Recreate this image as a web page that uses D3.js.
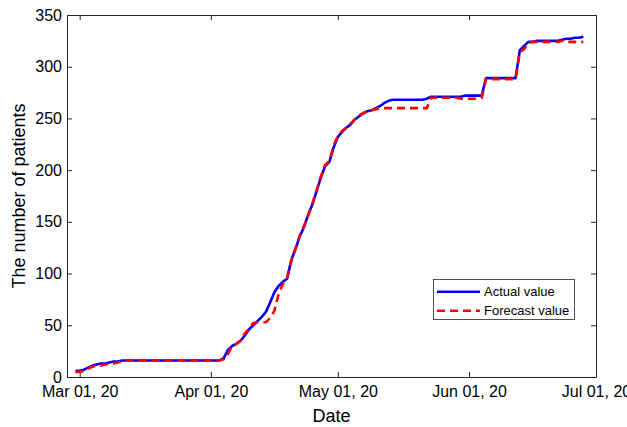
<!DOCTYPE html>
<html><head><meta charset="utf-8">
<script src="https://cdn.jsdelivr.net/npm/d3@7"></script>
<style>body{margin:0;background:#fff}svg{display:block}</style>
</head><body><svg id="c" width="627" height="427"></svg>
<script>
// ---- data ----
const startDate = "2020-02-29"; // first daily observation
const actualValues = [
  6,6,7,9,11,12,13,13,14,15,15,16,16,16,
  16,16,16,16,16,16,16,16,16,16,16,16,16,16,16,16,16,16,16,16,16,
  18,26,30,32,35,40,46,50,54,58,63,72,82,88,92,95,113,124,136,145,157,167,180,193,204,208,
  222,232,237,241,244,249,252,255,257,258,260,262,265,267,268,268,
  268,268,268,268,268,268,269,
  271,271,271,271,271,271,271,271,
  272,272,272,272,272,
  289,289,289,289,289,289,289,289,
  316,320,324,324,325,325,325,325,325,325,326,327,327,328,328,329
];
const forecastValues = [
  5,5,6,8,10,11,11,12,13,13,14,15,16,16,
  16,16,16,16,16,16,16,16,16,16,16,16,16,16,16,16,16,16,16,16,16,
  17,22,30,32,35,42,47,52,53,53,53,57,64,80,90,96,112,124,137,146,156,168,181,194,205,209,
  224,233,238,241,245,249,253,255,257,258,259,260,260,260,260,260,
  260,260,260,260,260,260,260,
  270,270,270,270,270,270,270,269,269,269,269,269,270,
  288,288,288,288,288,288,288,288,
  314,317,323,324,324,324,324,324,324,324,325,324,324,324,324,324
];
const xDomain = ["2020-02-27","2020-07-01"];
const xTickDates = ["2020-03-01","2020-04-01","2020-05-01","2020-06-01","2020-07-01"];
const xTickLabels = ["Mar 01, 20","Apr 01, 20","May 01, 20","Jun 01, 20","Jul 01, 20"];
const yTicks = [0,50,100,150,200,250,300,350];
const seriesNames = ["Actual value","Forecast value"];
const xTitle = "Date";
const yTitle = "The number of patients";

// ---- layout ----
const L = 67, R = 596, T = 15, B = 377;
const font = "'Liberation Sans', Arial, Helvetica, sans-serif";
const axisColor = "#262626";
const svg = d3.select("#c");

const parse = d3.utcParse("%Y-%m-%d");
const day0 = parse(startDate);
const dates = actualValues.map((_, i) => d3.utcDay.offset(day0, i));

const x = d3.scaleUtc().domain(xDomain.map(parse)).range([L, R]);
const y = d3.scaleLinear().domain([0, 350]).range([B, T]);

function styleAxis(g, showText) {
  g.selectAll("path.domain").attr("stroke", axisColor).attr("stroke-width", 1);
  g.selectAll(".tick line").attr("stroke", axisColor).attr("stroke-width", 1);
  g.selectAll(".tick text").attr("fill", "#000").style("font-family", font).style("font-size", "16px");
  if (!showText) g.selectAll(".tick text").remove();
}

const tickDates = xTickDates.map(parse);
// bottom axis
svg.append("g").attr("transform", `translate(0,${B})`)
  .call(d3.axisBottom(x).tickValues(tickDates).tickFormat((d, i) => xTickLabels[i])
    .tickSizeInner(-5).tickSizeOuter(0).tickPadding(9))
  .call(g => styleAxis(g, true));
// top axis
svg.append("g").attr("transform", `translate(0,${T})`)
  .call(d3.axisTop(x).tickValues(tickDates).tickSizeInner(-5).tickSizeOuter(0))
  .call(g => styleAxis(g, false));
// left axis
svg.append("g").attr("transform", `translate(${L},0)`)
  .call(d3.axisLeft(y).tickValues(yTicks).tickFormat(d3.format("d"))
    .tickSizeInner(-5).tickSizeOuter(0).tickPadding(5))
  .call(g => styleAxis(g, true));
// right axis
svg.append("g").attr("transform", `translate(${R},0)`)
  .call(d3.axisRight(y).tickValues(yTicks).tickSizeInner(-5).tickSizeOuter(0))
  .call(g => styleAxis(g, false));

// titles
svg.append("text").attr("x", (L + R) / 2).attr("y", 422).attr("text-anchor", "middle")
  .style("font-family", font).style("font-size", "18px").attr("fill", "#000").text(xTitle);
svg.append("text").attr("transform", `translate(25,${(T + B) / 2}) rotate(-90)`)
  .attr("text-anchor", "middle")
  .style("font-family", font).style("font-size", "18px").attr("fill", "#000").text(yTitle);

// lines
const line = d3.line().x((d, i) => x(dates[i])).y(d => y(d));
svg.append("path").datum(actualValues).attr("d", line)
  .attr("fill", "none").attr("stroke", "#0000ff").attr("stroke-width", 2.6)
  .attr("stroke-linejoin", "round");
svg.append("path").datum(forecastValues).attr("d", line)
  .attr("fill", "none").attr("stroke", "#ff0000").attr("stroke-width", 2.6)
  .attr("stroke-dasharray", "8,5");

// legend
const lg = svg.append("g");
lg.append("rect").attr("x", 433.5).attr("y", 279.5).attr("width", 141).attr("height", 40)
  .attr("fill", "#fff").attr("stroke", axisColor).attr("stroke-width", 0.8);
const legendColors = ["#0000ff", "#ff0000"];
const legendDash = [null, "8,5"];
seriesNames.forEach((name, i) => {
  const ly = 291.7 + i * 19;
  lg.append("line").attr("x1", 437).attr("x2", 480).attr("y1", ly).attr("y2", ly)
    .attr("stroke", legendColors[i]).attr("stroke-width", 2.6)
    .attr("stroke-dasharray", legendDash[i]);
  lg.append("text").attr("x", 484).attr("y", ly + 4.6)
    .style("font-family", font).style("font-size", "13px").attr("fill", "#000").text(name);
});
</script>
</body></html>
